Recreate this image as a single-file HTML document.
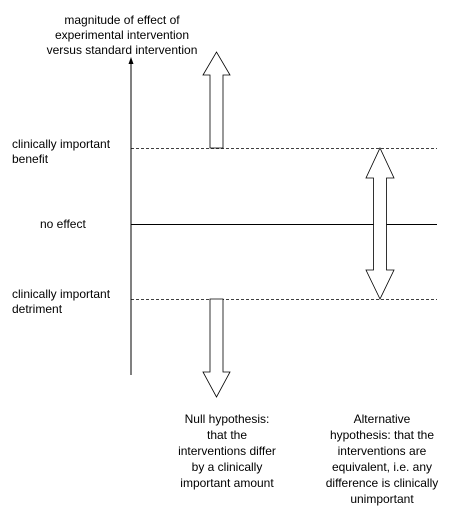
<!DOCTYPE html>
<html><head><style>
body{margin:0;background:#fff;}
svg text{font-family:"Liberation Sans",Arial,sans-serif;font-size:12px;fill:#000;}
</style></head><body>
<svg width="460" height="512" viewBox="0 0 460 512" xmlns="http://www.w3.org/2000/svg">
<line x1="131" y1="62" x2="131" y2="375" stroke="#000" stroke-width="1"/>
<polygon points="131,57 128.5,64 133.5,64" fill="#000"/>
<line x1="131" y1="148.5" x2="437" y2="148.5" stroke="#000" stroke-dasharray="3,2" stroke-width="0.8"/>
<line x1="131" y1="299.5" x2="437" y2="299.5" stroke="#000" stroke-dasharray="3,2" stroke-width="0.8"/>
<line x1="131" y1="224.5" x2="437" y2="224.5" stroke="#000" stroke-width="1"/>
<polygon points="210,148 210,75 203,75 216.5,52 230,75 223,75 223,148" fill="#fff" stroke="#000" stroke-width="0.8"/>
<polygon points="210,299 210,372 203,372 216.5,397 230,372 223,372 223,299" fill="#fff" stroke="#000" stroke-width="0.8"/>
<polygon points="380,148 394,178 386.5,178 386.5,270 394,270 380,299 366,270 373.5,270 373.5,178 366,178" fill="#fff" stroke="#000" stroke-width="0.8"/>
<g text-anchor="middle">
<text x="122" y="24">magnitude of effect of</text>
<text x="122" y="39">experimental intervention</text>
<text x="122" y="54">versus standard intervention</text>
</g>
<text x="12" y="148">clinically important</text>
<text x="12" y="163">benefit</text>
<text x="40" y="228">no effect</text>
<text x="12" y="298">clinically important</text>
<text x="12" y="313">detriment</text>
<g text-anchor="middle">
<text x="227" y="423">Null hypothesis:</text>
<text x="227" y="439">that the</text>
<text x="227" y="455">interventions differ</text>
<text x="227" y="471">by a clinically</text>
<text x="227" y="487">important amount</text>
<text x="382" y="423">Alternative</text>
<text x="382" y="439">hypothesis: that the</text>
<text x="382" y="455">interventions are</text>
<text x="382" y="471">equivalent, i.e. any</text>
<text x="382" y="487">difference is clinically</text>
<text x="382" y="503">unimportant</text>
</g>
</svg>
</body></html>
